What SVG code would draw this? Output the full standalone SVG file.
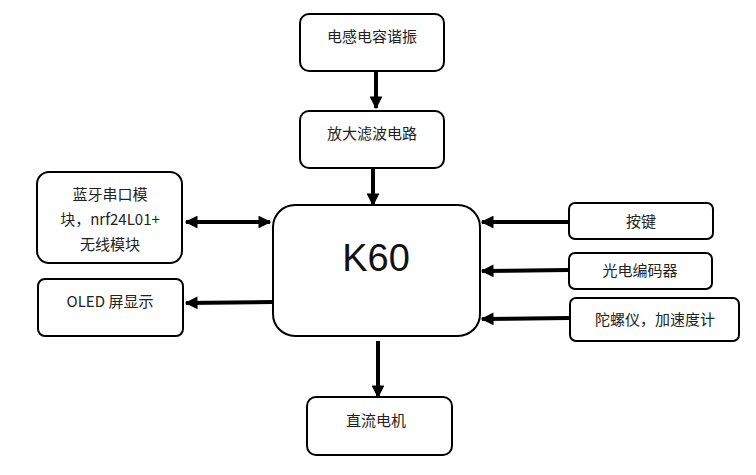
<svg xmlns="http://www.w3.org/2000/svg" width="756" height="475" viewBox="0 0 756 475">
<style>
.box{fill:#fff;stroke:#000;stroke-width:2}
.t{font-family:"Noto Sans CJK SC","Noto Sans",sans-serif;font-size:15px;fill:#222;text-anchor:middle}
.c{stroke:#000;stroke-width:4;fill:none}
</style>
<defs>
<marker id="ah" viewBox="0 0 10 10" refX="9" refY="5" markerWidth="3.4" markerHeight="3.2" orient="auto-start-reverse" markerUnits="strokeWidth">
<path d="M0,0 L10,5 L0,10 Z" fill="#000"/>
</marker>
</defs>
<rect width="756" height="475" fill="#fff"/>
<g id="n1"><rect class="box" x="300" y="14" width="144" height="57" rx="9"/><text class="t" x="372" y="42">电感电容谐振</text></g>
<g id="n2"><rect class="box" x="300" y="111" width="144" height="57" rx="9"/><text class="t" x="372" y="139">放大滤波电路</text></g>
<g id="k60"><rect class="box" x="273" y="205" width="207" height="131" rx="22"/><text x="376" y="271" style="font-family:'Liberation Sans',Arial,sans-serif;font-size:38px;fill:#111;text-anchor:middle">K60</text></g>
<g id="n3"><rect class="box" x="307" y="397" width="145" height="58" rx="9"/><text class="t" x="376" y="426">直流电机</text></g>
<g id="n4"><rect class="box" x="37" y="172" width="145" height="91" rx="12"/>
<text class="t" x="110" y="200">蓝牙串口模</text>
<text class="t" x="110" y="225">块，nrf24L01+</text>
<text class="t" x="110" y="250">无线模块</text></g>
<g id="n5"><rect class="box" x="38" y="279" width="145" height="57" rx="7"/><text class="t" x="110" y="307">OLED 屏显示</text></g>
<g id="n6"><rect class="box" x="569" y="203" width="144" height="36" rx="6"/><text class="t" x="641" y="227">按键</text></g>
<g id="n7"><rect class="box" x="569" y="253" width="143" height="36" rx="6"/><text class="t" x="640" y="276">光电编码器</text></g>
<g id="n8"><rect class="box" x="570" y="298" width="169" height="43" rx="6"/><text class="t" x="655" y="325">陀螺仪，加速度计</text></g>
<g id="connectors">
<line class="c" x1="376" y1="72" x2="376" y2="108" marker-end="url(#ah)"/>
<line class="c" x1="373" y1="168" x2="373" y2="205" marker-end="url(#ah)"/>
<line class="c" x1="378" y1="341" x2="378" y2="397" marker-end="url(#ah)"/>
<line class="c" x1="186" y1="222" x2="270" y2="222" marker-start="url(#ah)" marker-end="url(#ah)"/>
<line class="c" x1="273" y1="302" x2="186" y2="303" marker-end="url(#ah)"/>
<line class="c" x1="569" y1="222" x2="482" y2="222" marker-end="url(#ah)"/>
<line class="c" x1="569" y1="270" x2="482" y2="271" marker-end="url(#ah)"/>
<line class="c" x1="570" y1="318" x2="482" y2="319" marker-end="url(#ah)"/>
</g>
</svg>
